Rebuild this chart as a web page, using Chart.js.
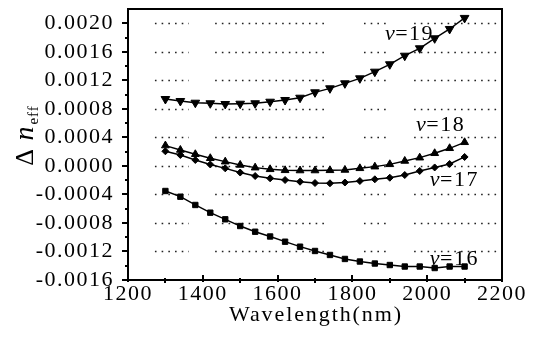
<!DOCTYPE html>
<html><head><meta charset="utf-8">
<script src="https://cdn.jsdelivr.net/npm/chart.js@4.4.1/dist/chart.umd.min.js"></script>
<style>html,body{margin:0;padding:0;background:#fff}#wrap{width:534px;height:345px;position:relative}</style>
</head><body><div id="wrap"><canvas id="c"></canvas></div>
<script>
// ---- data ----
const wavelengths = [1300,1340,1380,1420,1460,1500,1540,1580,1620,1660,1700,1740,1780,1820,1860,1900,1940,1980,2020,2060,2100];
const v16 = [-0.000352,-0.000432,-0.000548,-0.000656,-0.000749,-0.000843,-0.000923,-0.000990,-0.001063,-0.001133,-0.001193,-0.001249,-0.001305,-0.001341,-0.001369,-0.001390,-0.001411,-0.001411,-0.001432,-0.001411,-0.001411];
const v17 = [0.000205,0.000153,0.000083,0.000020,-0.000034,-0.000093,-0.000142,-0.000174,-0.000198,-0.000222,-0.000240,-0.000244,-0.000233,-0.000212,-0.000188,-0.000166,-0.000128,-0.000071,-0.000022,0.000027,0.000125];
const v18 = [0.000285,0.000223,0.000163,0.000107,0.000059,0.000013,-0.000025,-0.000048,-0.000062,-0.000065,-0.000065,-0.000062,-0.000057,-0.000034,-0.000011,0.000022,0.000069,0.000115,0.000177,0.000247,0.000331];
const v19 = [0.000938,0.000910,0.000886,0.000878,0.000868,0.000872,0.000878,0.000900,0.000924,0.000956,0.001032,0.001088,0.001158,0.001228,0.001321,0.001425,0.001545,0.001649,0.001789,0.001920,0.002075];
const seriesNames = ['16','17','18','19'];
const yTicks = [-0.0016,-0.0012,-0.0008,-0.0004,0,0.0004,0.0008,0.0012,0.0016,0.0020];
const yMinorTicks = [-0.0014,-0.0010,-0.0006,-0.0002,0.0002,0.0006,0.0010,0.0014,0.0018];
const xTicks = [1200,1400,1600,1800,2000,2200];
const xMinorTicks = [1300,1500,1700,1900,2100];
const xTitle = 'Wavelength(nm)';

// ---- layout/style (not data) ----
const FONT = "'Liberation Serif', 'Times New Roman', serif";
const labelAnchors = [[2007,-0.00139],[2007,-0.000282],[1970,0.000489],[1887,0.001765]];
const gridSegments = [[1272,1363],[1433,1732],[1831,1898],[1965,2195]];

function pts(ys){ return wavelengths.map((x,i)=>({x:x,y:ys[i]})); }

const deco = {
  id:'deco',
  beforeDraw(chart){
    const ctx = chart.ctx;
    ctx.save(); ctx.fillStyle='#fff'; ctx.fillRect(0,0,chart.width,chart.height); ctx.restore();
    ctx.letterSpacing = '1.5px';
  },
  beforeDatasetsDraw(chart){
    const ctx = chart.ctx, xs = chart.scales.x, ys = chart.scales.y;
    ctx.save();
    ctx.strokeStyle = '#222'; ctx.lineWidth = 1.6; ctx.setLineDash([1.6,5.1]);
    yTicks.forEach(v=>{
      if (v === yTicks[0]) return;
      const py = Math.round(ys.getPixelForValue(v)) + 0.5;
      gridSegments.forEach(s=>{
        ctx.beginPath();
        ctx.moveTo(xs.getPixelForValue(s[0]), py);
        ctx.lineTo(xs.getPixelForValue(s[1]), py);
        ctx.stroke();
      });
    });
    ctx.restore();
  },
  afterDatasetsDraw(chart){
    const ctx = chart.ctx, xs = chart.scales.x, ys = chart.scales.y, a = chart.chartArea;
    ctx.save();
    ctx.fillStyle = '#000';
    const L = Math.round(a.left), R = Math.round(a.right), T = Math.round(a.top), B = Math.round(a.bottom);
    ctx.fillRect(L - 1, T - 1, R - L + 2, 2);
    ctx.fillRect(R - 1, T - 1, 2, B - T + 1);
    yTicks.forEach(v=>{ const p = Math.round(ys.getPixelForValue(v)); ctx.fillRect(L - 6, p - 1, 6, 2); });
    yMinorTicks.forEach(v=>{ const p = Math.round(ys.getPixelForValue(v)); ctx.fillRect(L - 3, p - 1, 3, 2); });
    xTicks.forEach(v=>{ const p = Math.round(xs.getPixelForValue(v)); ctx.fillRect(p - 1, B - 5, 2, 7); });
    xMinorTicks.forEach(v=>{ const p = Math.round(xs.getPixelForValue(v)); ctx.fillRect(p - 1, B - 2, 2, 5); });
    ctx.restore();
  },
  afterDraw(chart){
    const ctx = chart.ctx, xs = chart.scales.x, ys = chart.scales.y, a = chart.chartArea;
    ctx.save();
    ctx.fillStyle = '#000';
    ctx.letterSpacing = '1.9px';
    ctx.font = '22px ' + FONT;
    ctx.textAlign = 'center'; ctx.textBaseline = 'alphabetic';
    ctx.fillText(xTitle, (a.left+a.right)/2 + 1, 321);
    ctx.letterSpacing = '1px';
    ctx.save();
    ctx.translate(33, 136);
    ctx.rotate(-Math.PI/2);
    ctx.textAlign = 'left';
    const f1 = '26px ' + FONT, f2 = 'italic 28px ' + FONT, f3 = '15px ' + FONT;
    ctx.font = f1; const w1 = ctx.measureText('\u0394 ').width;
    ctx.font = f2; const w2 = ctx.measureText('n').width;
    ctx.font = f3; const w3 = ctx.measureText('eff').width;
    let x0 = -(w1+w2+w3)/2;
    ctx.font = f1; ctx.fillText('\u0394 ', x0, 0); x0 += w1;
    ctx.font = f2; ctx.fillText('n', x0, 0); x0 += w2 + 1;
    ctx.font = f3; ctx.fillText('eff', x0, 5);
    ctx.restore();
    ctx.letterSpacing = '1.5px';
    ctx.textAlign = 'left'; ctx.textBaseline = 'alphabetic';
    seriesNames.forEach((n,i)=>{
      const px = xs.getPixelForValue(labelAnchors[i][0]);
      const py = ys.getPixelForValue(labelAnchors[i][1]);
      ctx.font = 'italic 22px ' + FONT;
      ctx.fillText('v', px, py);
      const w = ctx.measureText('v').width;
      ctx.font = '22px ' + FONT;
      ctx.fillText('=' + n, px + w - 1, py);
    });
    ctx.restore();
  }
};

const common = {borderColor:'#000', backgroundColor:'#000', pointBackgroundColor:'#000', pointBorderColor:'#000', borderWidth:1.4, tension:0, pointBorderWidth:1};

new Chart(document.getElementById('c'), {
  type:'line',
  data:{ datasets:[
    Object.assign({label:'v=16', data:pts(v16), pointStyle:'rect', pointRadius:3.8}, common),
    Object.assign({label:'v=17', data:pts(v17), pointStyle:'rectRot', pointRadius:3.5}, common),
    Object.assign({label:'v=18', data:pts(v18), pointStyle:'triangle', pointRadius:4.5}, common),
    Object.assign({label:'v=19', data:pts(v19), pointStyle:'triangle', pointRotation:180, pointRadius:5}, common)
  ]},
  options:{
    responsive:true, maintainAspectRatio:false, animation:false, devicePixelRatio:1,
    layout:{padding:{top:9,right:32,left:0,bottom:0}},
    plugins:{legend:{display:false}, tooltip:{enabled:false}},
    scales:{
      x:{ type:'linear', min:1200, max:2200,
        afterBuildTicks(s){ s.ticks = xTicks.map(v=>({value:v})); },
        afterFit(s){ s.height = 65; s.paddingLeft = 0; s.paddingRight = 0; },
        grid:{display:true, drawOnChartArea:false, drawTicks:false},
        border:{display:true, color:'#000', width:2},
        ticks:{ padding:1, color:'#000', font:{family:FONT, size:22}, maxRotation:0, autoSkip:false, callback:v=>String(v) }
      },
      x2:{ type:'linear', position:'top', min:1200, max:2200,
        afterFit(s){ s.height = 0; s.paddingLeft = 0; s.paddingRight = 0; },
        grid:{display:true, drawOnChartArea:false, drawTicks:false},
        border:{display:true, color:'#000', width:2},
        ticks:{display:false}
      },
      y:{ type:'linear', min:-0.0016, max:0.0022,
        afterBuildTicks(s){ s.ticks = yTicks.map(v=>({value:v})); },
        afterFit(s){ s.width = 128; s.paddingTop = 0; s.paddingBottom = 0; },
        grid:{display:true, drawOnChartArea:false, drawTicks:false},
        border:{display:true, color:'#000', width:2},
        ticks:{ padding:14, color:'#000', font:{family:FONT, size:22}, autoSkip:false, callback:v=>Number(v).toFixed(4) }
      },
      y2:{ type:'linear', position:'right', min:-0.0016, max:0.0022,
        afterFit(s){ s.width = 0; s.paddingTop = 0; s.paddingBottom = 0; },
        grid:{display:true, drawOnChartArea:false, drawTicks:false},
        border:{display:true, color:'#000', width:1.6},
        ticks:{display:false}
      }
    }
  },
  plugins:[deco]
});
</script></body></html>
